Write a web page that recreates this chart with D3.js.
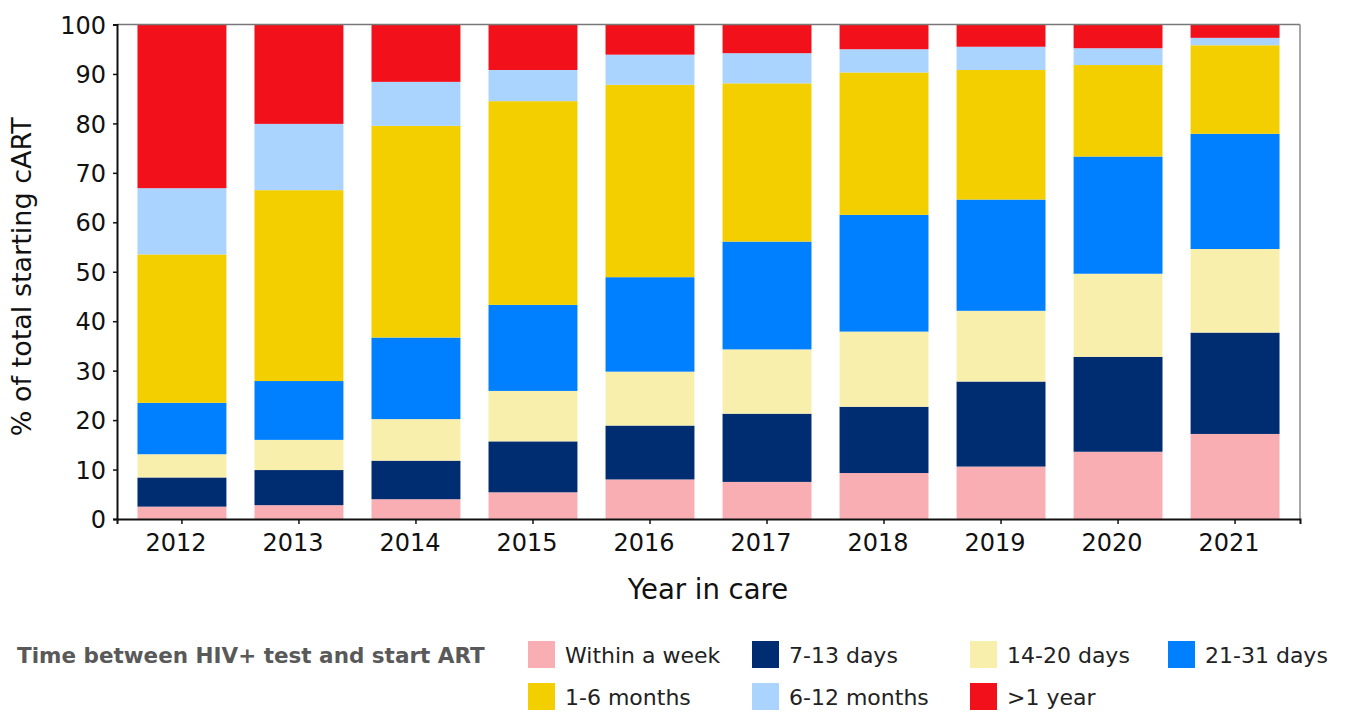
<!DOCTYPE html>
<html>
<head>
<meta charset="utf-8">
<script src="https://cdn.jsdelivr.net/npm/d3@7"></script>
<style>
  body { margin: 0; background: #fff; }
  svg, svg text { font-family: "DejaVu Sans", Verdana, sans-serif; }
</style>
</head>
<body>
<div id="chart"></div>
<script>
// years on the x axis
var years = ["2012", "2013", "2014", "2015", "2016", "2017", "2018", "2019", "2020", "2021"];

// share (%) of each category per year, bottom to top
var withinWeek = [2.5, 2.8, 4.0, 5.4, 8.0, 7.5, 9.3, 10.6, 13.6, 17.2];
var days7to13  = [5.9, 7.1, 7.8, 10.3, 10.9, 13.8, 13.4, 17.2, 19.2, 20.5];
var days14to20 = [4.7, 6.1, 8.4, 10.2, 10.9, 13.0, 15.2, 14.3, 16.8, 16.9];
var days21to31 = [10.4, 11.9, 16.5, 17.4, 19.1, 21.8, 23.6, 22.5, 23.7, 23.3];
var months1to6 = [30.0, 38.6, 42.8, 41.2, 38.9, 32.0, 28.8, 26.2, 18.5, 17.9];
var months6to12 = [13.4, 13.4, 8.9, 6.3, 6.1, 6.1, 4.7, 4.7, 3.4, 1.5];
var overYear   = [33.1, 20.1, 11.6, 9.2, 6.1, 5.8, 5.0, 4.5, 4.8, 2.7];

var categories = ["Within a week", "7-13 days", "14-20 days", "21-31 days", "1-6 months", "6-12 months", ">1 year"];
var seriesValues = [withinWeek, days7to13, days14to20, days21to31, months1to6, months6to12, overYear];
var colors = ["#f9aeb3", "#002d72", "#f9efad", "#0080ff", "#f4cf00", "#aad3fe", "#f2111b"];
var yTicks = [0, 10, 20, 30, 40, 50, 60, 70, 80, 90, 100];

var W = 1345, H = 713;
var margin = {top: 24.5, right: 45, bottom: 194, left: 117};
var width = W - margin.left - margin.right;
var height = H - margin.top - margin.bottom;
var fontFam = "DejaVu Sans, Verdana, sans-serif";

var svg = d3.select("#chart").append("svg")
  .attr("width", W)
  .attr("height", H);

var g = svg.append("g")
  .attr("transform", "translate(" + margin.left + "," + margin.top + ")");

// rows of data for the stack
var rows = years.map(function(yr, i) {
  var r = {year: yr};
  categories.forEach(function(c, j) { r[c] = seriesValues[j][i]; });
  return r;
});

var stack = d3.stack().keys(categories);
var stacked = stack(rows);

var x = d3.scaleBand()
  .domain(years)
  .range([0, width])
  .paddingInner(0.24)
  .paddingOuter(0.175);

var y = d3.scaleLinear()
  .domain([0, 100])
  .range([height, 0]);

var color = d3.scaleOrdinal().domain(categories).range(colors);

// bars
g.selectAll(".layer")
  .data(stacked)
  .enter().append("g")
  .attr("class", "layer")
  .attr("fill", function(d) { return color(d.key); })
  .selectAll("rect")
  .data(function(d) { return d; })
  .enter().append("rect")
  .attr("x", function(d) { return x(d.data.year); })
  .attr("width", x.bandwidth())
  .attr("y", function(d) { return y(d[1]); })
  .attr("height", function(d) { return y(d[0]) - y(d[1]); });

// top and right frame
g.append("line")
  .attr("x1", 0).attr("x2", width).attr("y1", 0).attr("y2", 0)
  .attr("stroke", "#777").attr("stroke-width", 1.5);
g.append("line")
  .attr("x1", width).attr("x2", width).attr("y1", 0).attr("y2", height)
  .attr("stroke", "#888").attr("stroke-width", 1.5);

// axes
var yAxis = d3.axisLeft(y).tickValues(yTicks).tickSize(4).tickPadding(7);
var xAxis = d3.axisBottom(x).tickSize(5).tickPadding(10);

var gy = g.append("g").attr("class", "y axis").call(yAxis)
  .attr("font-family", fontFam).attr("font-size", 24);
gy.select(".domain").attr("stroke", "#111").attr("stroke-width", 2);
gy.selectAll("text").attr("fill", "#111").attr("dy", "0.36em");
gy.selectAll("line").attr("stroke", "#111").attr("stroke-width", 1.5);

var gx = g.append("g").attr("class", "x axis")
  .attr("transform", "translate(0," + height + ")")
  .call(xAxis)
  .attr("font-family", fontFam).attr("font-size", 24);
gx.select(".domain").attr("stroke", "#111").attr("stroke-width", 2);
// labels sit a little left of the ticks in the original
gx.selectAll("text").attr("fill", "#111").attr("dx", -6);
gx.selectAll("line").attr("stroke", "#111").attr("stroke-width", 1.5);

// axis titles
svg.append("text")
  .attr("transform", "translate(31," + (margin.top + height / 2 + 5) + ") rotate(-90)")
  .attr("text-anchor", "middle")
  .attr("font-size", 27)
  .attr("fill", "#111")
  .text("% of total starting cART");

svg.append("text")
  .attr("x", 708)
  .attr("y", 599)
  .attr("text-anchor", "middle")
  .attr("font-size", 27.5)
  .attr("fill", "#111")
  .text("Year in care");

// legend
svg.append("text")
  .attr("x", 17)
  .attr("y", 663)
  .attr("font-size", 21.5)
  .attr("font-weight", "bold")
  .attr("fill", "#595959")
  .text("Time between HIV+ test and start ART");

var legendCols = [528, 752, 970, 1168];
var legendRows = [641, 683];

var legend = svg.selectAll(".legend")
  .data(categories)
  .enter().append("g")
  .attr("class", "legend")
  .attr("transform", function(d, i) {
    return "translate(" + legendCols[i % 4] + "," + legendRows[Math.floor(i / 4)] + ")";
  });

legend.append("rect")
  .attr("width", 27)
  .attr("height", 27)
  .attr("fill", function(d) { return color(d); });

legend.append("text")
  .attr("x", 37)
  .attr("y", 21.5)
  .attr("font-size", 22)
  .attr("fill", "#222")
  .text(function(d) { return d; });
</script>
</body>
</html>
